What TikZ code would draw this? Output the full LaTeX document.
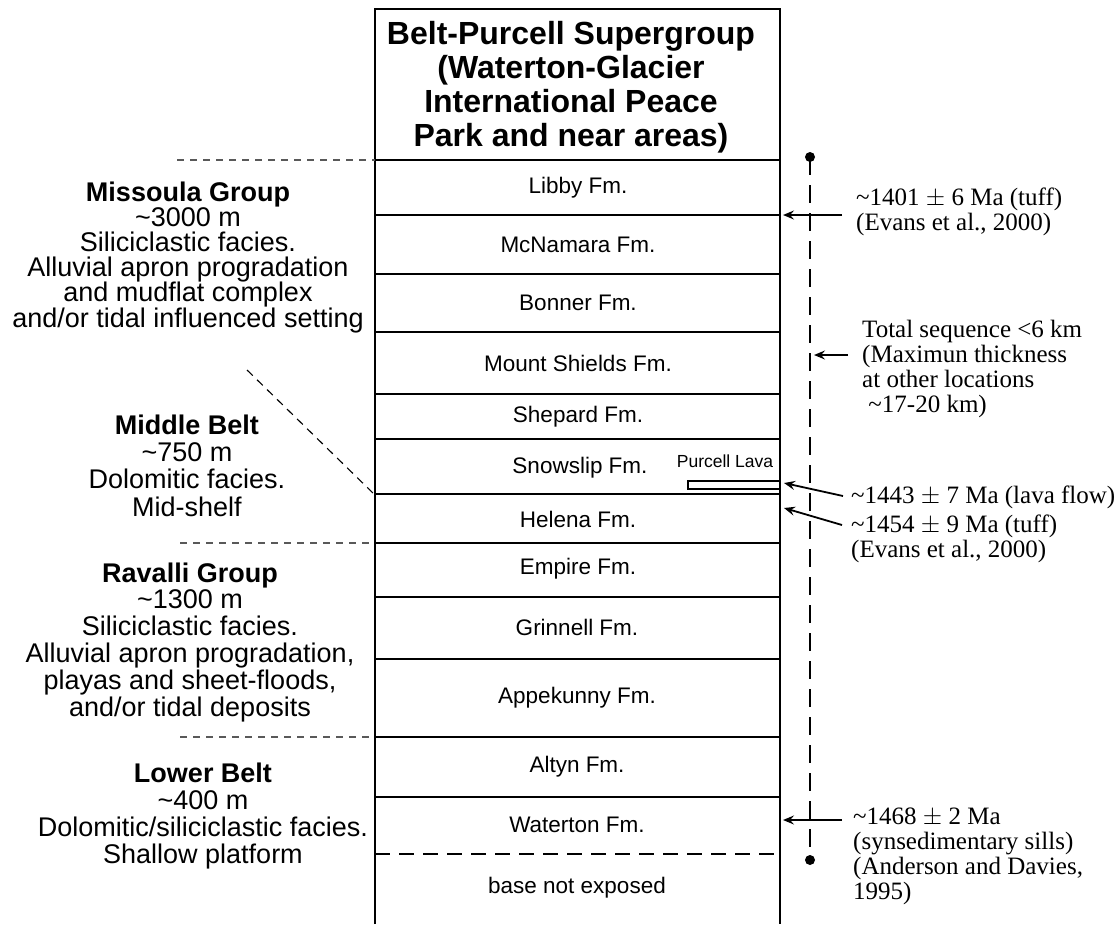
\documentclass[tikz,border=0pt]{standalone}
\usepackage{fontspec}
\setmainfont{Liberation Serif}
\setsansfont{Liberation Sans}
\usetikzlibrary{arrows.meta}
\begin{document}
\begin{tikzpicture}[x=1pt,y=-1pt,
  frame/.style={line width=2},
  fmline/.style={line width=1.6},
  fmlabel/.style={font=\sffamily\fontsize{22.5}{27}\selectfont, inner sep=0},
  grp/.style={align=center, inner sep=0, anchor=base},
  date/.style={font=\rmfamily\fontsize{25}{25}\selectfont, align=left, inner sep=0, anchor=base west},
  grpdash/.style={line width=1.3, draw=black!65, dash pattern=on 7 off 6},
  vdash/.style={line width=2, dash pattern=on 18 off 10},
  arr/.style={line width=1.8, -{Stealth[length=11,width=9,inset=4]}}
]
\useasboundingbox (0,0) rectangle (1119,924);

% column frame
\draw[frame] (375,924) -- (375,9) -- (780,9) -- (780,924);
\node[font=\sffamily\bfseries\fontsize{32}{34}\selectfont, align=center, inner sep=0, anchor=base] (title) at (571,146)
  {Belt-Purcell Supergroup\\(Waterton-Glacier\\International Peace\\Park and near areas)};

% formation boundaries
\foreach \y in {160,215,274,332,394,439,494,543,597,659,737,797}
  \draw[fmline] (375,\y) -- (780,\y);
\draw[fmline, dash pattern=on 15 off 9] (375,854) -- (780,854);

% formation names
\node[fmlabel] (libby) at (578,188) {Libby Fm.};
\node[fmlabel] (mcnamara) at (578,245) {McNamara Fm.};
\node[fmlabel] (bonner) at (578,303) {Bonner Fm.};
\node[fmlabel] (mtshields) at (578,363) {Mount Shields Fm.};
\node[fmlabel] (shepard) at (578,417) {Shepard Fm.};
\node[fmlabel] (snowslip) at (580,468) {Snowslip Fm.};
\node[fmlabel] (helena) at (578,519) {Helena Fm.};
\node[fmlabel] (empire) at (578,569) {Empire Fm.};
\node[fmlabel] (grinnell) at (577,627) {Grinnell Fm.};
\node[fmlabel] (appekunny) at (577,698) {Appekunny Fm.};
\node[fmlabel] (altyn) at (577,767) {Altyn Fm.};
\node[fmlabel] (waterton) at (577,825) {Waterton Fm.};
\node[fmlabel] (base) at (577,888) {base not exposed};

% Purcell lava
\draw[line width=1.5] (688,481) rectangle (780,489);
\node[font=\sffamily\fontsize{17.5}{20}\selectfont, inner sep=0, anchor=base] (lava) at (725,467) {Purcell Lava};

% left group boundaries
\coordinate (d1a) at (177,160); \coordinate (d1b) at (375,160);
\coordinate (d2a) at (180,543); \coordinate (d2b) at (375,543);
\coordinate (d3a) at (180,737); \coordinate (d3b) at (375,737);
\coordinate (dga) at (247,370); \coordinate (dgb) at (374,494);
\draw[grpdash] (d1a) -- (d1b);
\draw[grpdash] (d2a) -- (d2b);
\draw[grpdash] (d3a) -- (d3b);
\draw[line width=1.1, dash pattern=on 8 off 6] (dga) -- (dgb);

% group descriptions (anchor = baseline of last line)
\node[grp, font=\sffamily\fontsize{27}{25.2}\selectfont] (missoula) at (188,327)
  {\textbf{Missoula Group}\\\textasciitilde3000 m\\Siliciclastic facies.\\Alluvial apron progradation\\and mudflat complex\\and/or tidal influenced setting};
\node[grp, font=\sffamily\fontsize{27}{27.3}\selectfont] (middle) at (187,516)
  {\textbf{Middle Belt}\\\textasciitilde750 m\\Dolomitic facies.\\Mid-shelf};
\node[grp, font=\sffamily\fontsize{27}{26.8}\selectfont] (ravalli) at (190,716)
  {\textbf{Ravalli Group}\\\textasciitilde1300 m\\Siliciclastic facies.\\Alluvial apron progradation,\\playas and sheet-floods,\\and/or tidal deposits};
\node[grp, font=\sffamily\fontsize{27}{26.7}\selectfont] (lower) at (203,863)
  {\textbf{Lower Belt}\\\textasciitilde400 m\\Dolomitic/siliciclastic facies.\\Shallow platform};

% total thickness line
\coordinate (vt) at (810,157);
\coordinate (vb) at (810,860);
\draw[vdash] (vt) -- (vb);
\fill (vt) circle (5);
\fill (vb) circle (5);

% ages (anchor = baseline of last line)
\node[date] (age1401) at (856,230) {\textasciitilde1401 $\pm$ 6 Ma (tuff)\\(Evans et al., 2000)};
\node[date] (total) at (862,412) {Total sequence <6 km\\(Maximun thickness\\at other locations\\\ \textasciitilde17-20 km)};
\node[date] (age1443) at (851,503) {\textasciitilde1443 $\pm$ 7 Ma (lava flow)};
\node[date] (age1454) at (851,557) {\textasciitilde1454 $\pm$ 9 Ma (tuff)\\(Evans et al., 2000)};
\node[date] (age1468) at (853,899) {\textasciitilde1468 $\pm$ 2 Ma\\(synsedimentary sills)\\(Anderson and Davies,\\1995)};

% arrows
\coordinate (s1401) at (842,215); \coordinate (e1401) at (783,215);
\coordinate (stot) at (848,355); \coordinate (etot) at (814,355);
\coordinate (s1443) at (843,496); \coordinate (e1443) at (784,483);
\coordinate (s1454) at (842,525); \coordinate (e1454) at (784,508);
\coordinate (s1468) at (842,820); \coordinate (e1468) at (783,820);
\draw[arr] (s1401) -- (e1401);
\draw[arr] (stot) -- (etot);
\draw[arr] (s1443) -- (e1443);
\draw[arr] (s1454) -- (e1454);
\draw[arr] (s1468) -- (e1468);
\end{tikzpicture}
\end{document}
